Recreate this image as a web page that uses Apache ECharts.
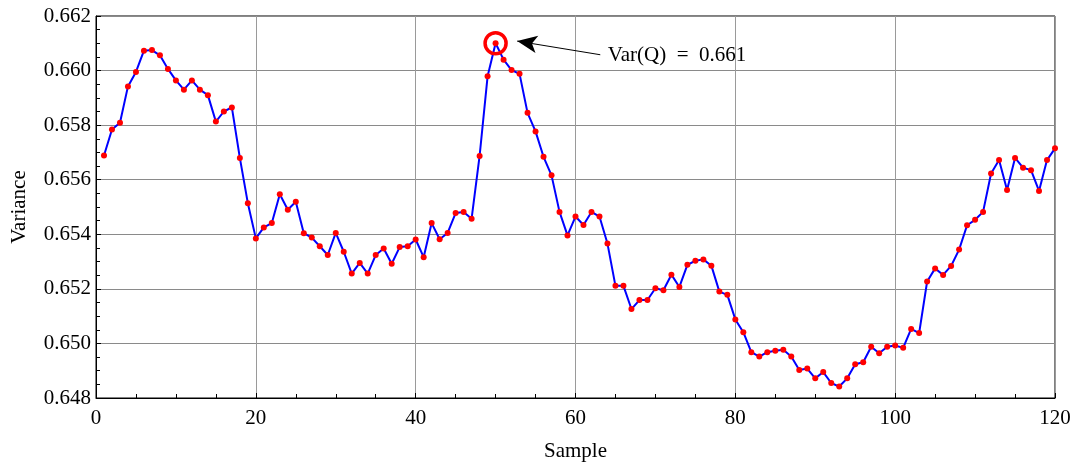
<!DOCTYPE html>
<html>
<head>
<meta charset="utf-8">
<script src="https://cdn.jsdelivr.net/npm/echarts@6/dist/echarts.min.js"></script>
<style>
  html, body { margin: 0; padding: 0; background: #ffffff; }
  #chart { width: 1082px; height: 467px; }
</style>
</head>
<body>
<div id="chart"></div>
<script>
// Sample indices 1..120 and their variance values
const samples = Array.from({ length: 120 }, (_, i) => i + 1);
const variance = [
  0.65689, 0.65784, 0.65809, 0.65942, 0.65995, 0.66073, 0.66075, 0.66056, 0.66006, 0.65964,
  0.65930, 0.65964, 0.65930, 0.65910, 0.65813, 0.65850, 0.65865, 0.65680, 0.65514, 0.65385,
  0.65425, 0.65441, 0.65547, 0.65490, 0.65519, 0.65404, 0.65388, 0.65356, 0.65324, 0.65405,
  0.65336, 0.65256, 0.65295, 0.65256, 0.65324, 0.65348, 0.65292, 0.65353, 0.65356, 0.65381,
  0.65316, 0.65441, 0.65382, 0.65405, 0.65478, 0.65482, 0.65457, 0.65687, 0.65979, 0.66100,
  0.66040, 0.66002, 0.65988, 0.65845, 0.65777, 0.65684, 0.65616, 0.65482, 0.65396, 0.65465,
  0.65434, 0.65482, 0.65465, 0.65366, 0.65211, 0.65211, 0.65126, 0.65159, 0.65159, 0.65202,
  0.65195, 0.65252, 0.65207, 0.65288, 0.65303, 0.65308, 0.65285, 0.65190, 0.65178, 0.65088,
  0.65041, 0.64968, 0.64952, 0.64968, 0.64973, 0.64977, 0.64952, 0.64903, 0.64908, 0.64872,
  0.64895, 0.64855, 0.64842, 0.64872, 0.64924, 0.64931, 0.64988, 0.64964, 0.64988, 0.64992,
  0.64984, 0.65053, 0.65038, 0.65227, 0.65275, 0.65251, 0.65284, 0.65344, 0.65433, 0.65453,
  0.65482, 0.65623, 0.65672, 0.65562, 0.65680, 0.65644, 0.65635, 0.65559, 0.65672, 0.65715
];
const xTicks = [0, 20, 40, 60, 80, 100, 120];
const yTicks = [0.648, 0.650, 0.652, 0.654, 0.656, 0.658, 0.660, 0.662];

// Peak sample that gets the callout
let peakIdx = 0;
variance.forEach((v, i) => { if (v > variance[peakIdx]) peakIdx = i; });
const peakX = samples[peakIdx];
const peakY = variance[peakIdx];

const FONT = '"Liberation Serif", "DejaVu Serif", serif';
const seriesData = samples.map((s, i) => [s, variance[i]]);

const chart = echarts.init(document.getElementById('chart'), null, { renderer: 'canvas' });
chart.setOption({
  animation: false,
  backgroundColor: '#ffffff',
  grid: {
    left: 96, right: 27, top: 16, bottom: 67.5,
    show: true, borderColor: '#000000', borderWidth: 1
  },
  xAxis: {
    type: 'value',
    min: xTicks[0], max: xTicks[xTicks.length - 1], interval: 20,
    name: 'Sample', nameLocation: 'middle', nameGap: 43,
    nameTextStyle: { fontFamily: FONT, fontSize: 21, color: '#000' },
    axisLine: { show: true, lineStyle: { color: '#000', width: 1 } },
    axisTick: { show: true, inside: true, length: 5, lineStyle: { color: '#000' } },
    minorTick: { show: true, splitNumber: 4, length: 4, lineStyle: { color: '#000' } },
    axisLabel: { fontFamily: FONT, fontSize: 21, color: '#000', margin: 10 },
    splitLine: { show: true, lineStyle: { color: '#9a9a9a', width: 1 } }
  },
  yAxis: {
    type: 'value',
    min: yTicks[0], max: yTicks[yTicks.length - 1], interval: 0.002,
    name: 'Variance', nameLocation: 'middle', nameGap: 66, nameRotate: 90,
    nameTextStyle: { fontFamily: FONT, fontSize: 21, color: '#000' },
    axisLine: { show: true, lineStyle: { color: '#000', width: 1 } },
    axisTick: { show: true, inside: true, length: 5, lineStyle: { color: '#000' } },
    minorTick: { show: true, splitNumber: 4, length: 4, lineStyle: { color: '#000' } },
    axisLabel: {
      fontFamily: FONT, fontSize: 21, color: '#000', margin: 5,
      formatter: v => v.toFixed(3)
    },
    splitLine: { show: true, lineStyle: { color: '#8a8a8a', width: 1 } }
  },
  series: [{
    type: 'line',
    data: seriesData,
    showSymbol: true,
    symbol: 'circle',
    symbolSize: 6,
    itemStyle: { color: '#ff0000' },
    lineStyle: { color: '#0000ff', width: 2 },
    z: 3,
    markPoint: {
      silent: true,
      data: [
        {
          coord: [peakX, peakY],
          symbol: 'circle', symbolSize: 21,
          itemStyle: { color: 'rgba(0,0,0,0)', borderColor: '#ff0000', borderWidth: 3.5 },
          label: { show: false }
        },
        {
          coord: [63.3, 0.66056],
          symbol: 'circle', symbolSize: 0,
          label: {
            show: true, position: 'right', distance: 6,
            fontFamily: FONT, fontSize: 21, color: '#000',
            formatter: () => 'Var(Q)  =  ' + peakY.toFixed(3)
          }
        }
      ]
    },
    markLine: {
      silent: true,
      symbol: ['none', 'arrow'],
      symbolSize: [13, 20],
      label: { show: false },
      lineStyle: { color: '#000', width: 1, type: 'solid' },
      data: [[
        { coord: [63.1, 0.66058] },
        { coord: [52.7, 0.66108] }
      ]]
    }
  }]
});
</script>
</body>
</html>
